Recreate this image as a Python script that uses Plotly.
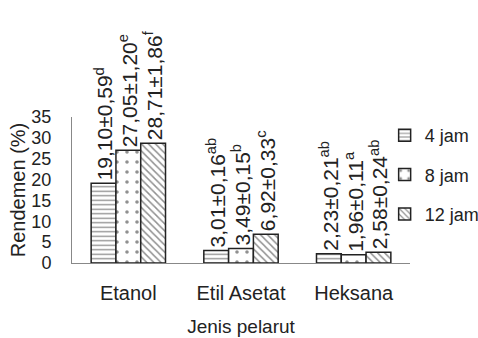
import plotly.graph_objects as go

categories = ["Etanol", "Etil Asetat", "Heksana"]
series_names = ["4 jam", "8 jam", "12 jam"]
values = {
    "4 jam": [19.10, 3.01, 2.23],
    "8 jam": [27.05, 3.49, 1.96],
    "12 jam": [28.71, 6.92, 2.58],
}
labels = {
    "4 jam": ["19,10±0,59<sup>d</sup>", "3,01±0,16<sup>ab</sup>", "2,23±0,21<sup>ab</sup>"],
    "8 jam": ["27,05±1,20<sup>e</sup>", "3,49±0,15<sup>b</sup>", "1,96±0,11<sup>a</sup>"],
    "12 jam": ["28,71±1,86<sup>f</sup>", "6,92±0,33<sup>c</sup>", "2,58±0,24<sup>ab</sup>"],
}
y_ticks = [0, 5, 10, 15, 20, 25, 30, 35]

patterns = {"4 jam": ("-", 4.5, 0.3), "8 jam": (".", 10, 0.1), "12 jam": ("\\", 5, 0.3)}

FONT = "Liberation Sans, Arial, sans-serif"
fig = go.Figure()
for i, s in enumerate(series_names):
    shp, size, sol = patterns[s]
    fig.add_trace(go.Bar(
        name=s, x=categories, y=values[s],
        text=labels[s], textposition="outside", textangle=-90,
        constraintext="none", cliponaxis=False,
        textfont=dict(family=FONT, size=21, color="#222"),
        marker=dict(color="white", line=dict(color="#222", width=1.5),
                    pattern=dict(shape=shp, size=size, solidity=sol,
                                 fgcolor="#222", bgcolor="white")),
        legendgroup=s,
    ))

fig.update_layout(
    width=478, height=338,
    margin=dict(l=72, r=68, t=117, b=75, autoexpand=False),
    paper_bgcolor="white", plot_bgcolor="white",
    barmode="group", bargap=0.34, bargroupgap=0,
    font=dict(family=FONT, size=19, color="#222"),
    showlegend=True,
    legend=dict(x=0.925, y=1.0, xanchor="left", yanchor="top",
                font=dict(family=FONT, size=18, color="#222"),
                tracegroupgap=13, itemwidth=30, bgcolor="rgba(0,0,0,0)"),
    xaxis=dict(showline=True, linecolor="#888", linewidth=1, ticks="",
               showgrid=False, tickfont=dict(family=FONT, size=20, color="#222"),
               ticklabelstandoff=12,
               title=dict(text="Jenis pelarut", font=dict(family=FONT, size=19, color="#222"), standoff=16)),
    yaxis=dict(range=[0, 35], tickvals=y_ticks, showline=True, linecolor="#888",
               linewidth=1, ticks="", showgrid=False, zeroline=False,
               tickfont=dict(family="Liberation Sans Narrow, " + FONT, size=18, color="#222"),
               ticklabelstandoff=16,
               title=dict(text="Rendemen (%)", font=dict(family=FONT, size=20, color="#222"), standoff=0)),
)
fig.write_html("out.html")
